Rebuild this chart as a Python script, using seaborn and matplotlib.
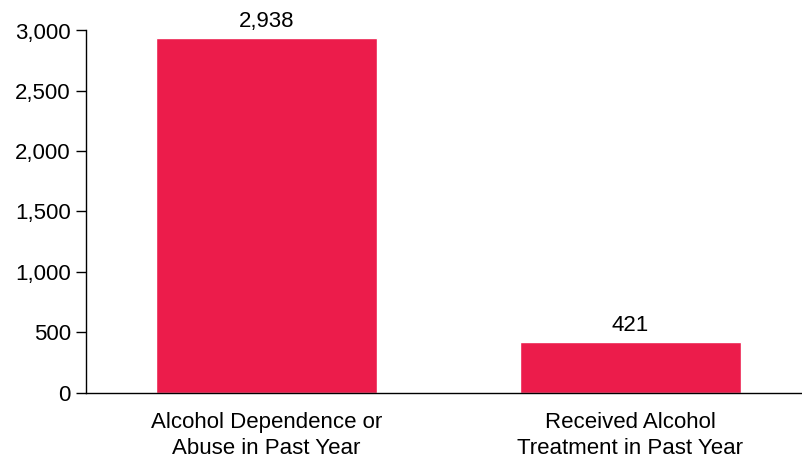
import matplotlib
matplotlib.use("Agg")
import matplotlib.pyplot as plt
import matplotlib.ticker as mticker
import seaborn as sns
import pandas as pd

categories = ["Alcohol Dependence or\nAbuse in Past Year", "Received Alcohol\nTreatment in Past Year"]
values = [2938, 421]
value_labels = ["2,938", "421"]

sns.set_theme(style="white")
plt.rcParams['font.family'] = ['Liberation Sans', 'DejaVu Sans']

df = pd.DataFrame({"cat": categories, "val": values})

fig = plt.figure(figsize=(8.03, 4.61), dpi=100)
ax = fig.add_axes([86/803, 1-392.5/461, 1-86/803, (392.5-30.5)/461])
sns.barplot(data=df, x="cat", y="val", color="#EC1C4B", saturation=1, width=0.607, ax=ax)
ax.set_xlim(-0.496, 1.474)
ax.set_ylim(0, 3000)
ax.set_yticks(range(0, 3001, 500))
ax.yaxis.set_major_formatter(mticker.FuncFormatter(lambda v, p: f"{int(v):,}"))
ax.set_xlabel("")
ax.set_ylabel("")
for s in ["top", "right"]:
    ax.spines[s].set_visible(False)
for s in ["left", "bottom"]:
    ax.spines[s].set_color("black")
    ax.spines[s].set_linewidth(1.0)
ax.tick_params(axis="y", which="both", left=True, length=7, width=1, color="black", labelsize=16, pad=4, labelcolor="black")
ax.tick_params(axis="x", bottom=False, labelsize=16, pad=8, labelcolor="black")
for t in ax.get_xticklabels():
    t.set_linespacing(1.3)
for i, (v, lab) in enumerate(zip(values, value_labels)):
    ax.annotate(lab, (i, v), xytext=(0, 8), textcoords="offset points",
                ha="center", va="baseline", fontsize=16, color="black", annotation_clip=False)
fig.savefig("out.png", dpi=100)
